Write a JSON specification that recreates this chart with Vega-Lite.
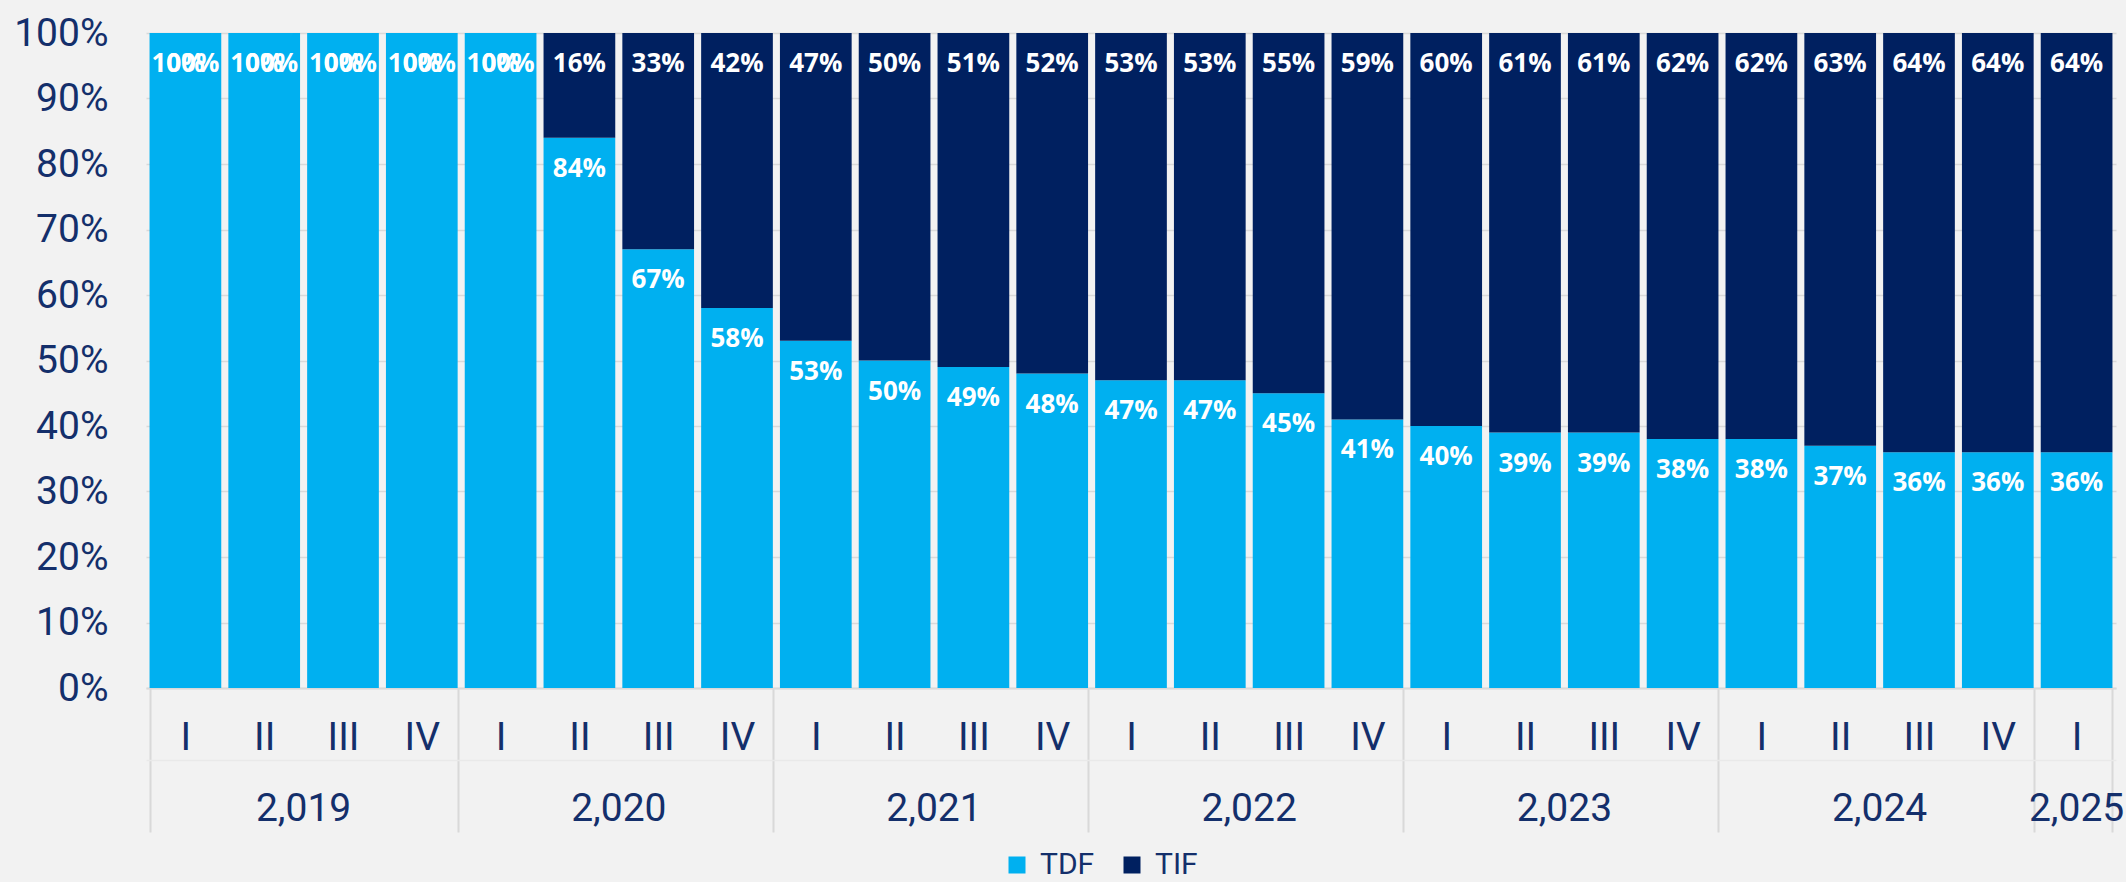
{
  "$schema": "https://vega.github.io/schema/vega-lite/v6.json",
  "width": 1970,
  "height": 655,
  "autosize": {"type": "none"},
  "padding": {"left": 146, "top": 33, "right": 10, "bottom": 194},
  "background": "#f2f2f2",
  "config": {"view": {"stroke": null}},
  "data": {
    "values": [
      {"key": "2019-I", "series": "TDF", "value": 100}, {"key": "2019-I", "series": "TIF", "value": 0},
      {"key": "2019-II", "series": "TDF", "value": 100}, {"key": "2019-II", "series": "TIF", "value": 0},
      {"key": "2019-III", "series": "TDF", "value": 100}, {"key": "2019-III", "series": "TIF", "value": 0},
      {"key": "2019-IV", "series": "TDF", "value": 100}, {"key": "2019-IV", "series": "TIF", "value": 0},
      {"key": "2020-I", "series": "TDF", "value": 100}, {"key": "2020-I", "series": "TIF", "value": 0},
      {"key": "2020-II", "series": "TDF", "value": 84}, {"key": "2020-II", "series": "TIF", "value": 16},
      {"key": "2020-III", "series": "TDF", "value": 67}, {"key": "2020-III", "series": "TIF", "value": 33},
      {"key": "2020-IV", "series": "TDF", "value": 58}, {"key": "2020-IV", "series": "TIF", "value": 42},
      {"key": "2021-I", "series": "TDF", "value": 53}, {"key": "2021-I", "series": "TIF", "value": 47},
      {"key": "2021-II", "series": "TDF", "value": 50}, {"key": "2021-II", "series": "TIF", "value": 50},
      {"key": "2021-III", "series": "TDF", "value": 49}, {"key": "2021-III", "series": "TIF", "value": 51},
      {"key": "2021-IV", "series": "TDF", "value": 48}, {"key": "2021-IV", "series": "TIF", "value": 52},
      {"key": "2022-I", "series": "TDF", "value": 47}, {"key": "2022-I", "series": "TIF", "value": 53},
      {"key": "2022-II", "series": "TDF", "value": 47}, {"key": "2022-II", "series": "TIF", "value": 53},
      {"key": "2022-III", "series": "TDF", "value": 45}, {"key": "2022-III", "series": "TIF", "value": 55},
      {"key": "2022-IV", "series": "TDF", "value": 41}, {"key": "2022-IV", "series": "TIF", "value": 59},
      {"key": "2023-I", "series": "TDF", "value": 40}, {"key": "2023-I", "series": "TIF", "value": 60},
      {"key": "2023-II", "series": "TDF", "value": 39}, {"key": "2023-II", "series": "TIF", "value": 61},
      {"key": "2023-III", "series": "TDF", "value": 39}, {"key": "2023-III", "series": "TIF", "value": 61},
      {"key": "2023-IV", "series": "TDF", "value": 38}, {"key": "2023-IV", "series": "TIF", "value": 62},
      {"key": "2024-I", "series": "TDF", "value": 38}, {"key": "2024-I", "series": "TIF", "value": 62},
      {"key": "2024-II", "series": "TDF", "value": 37}, {"key": "2024-II", "series": "TIF", "value": 63},
      {"key": "2024-III", "series": "TDF", "value": 36}, {"key": "2024-III", "series": "TIF", "value": 64},
      {"key": "2024-IV", "series": "TDF", "value": 36}, {"key": "2024-IV", "series": "TIF", "value": 64},
      {"key": "2025-I", "series": "TDF", "value": 36}, {"key": "2025-I", "series": "TIF", "value": 64}
    ]
  },
  "transform": [{"calculate": "datum.value + '%'", "as": "label"}],
  "layer": [
    {
      "mark": {"type": "bar"},
      "encoding": {
        "x": {
          "field": "key", "type": "nominal", "sort": null,
          "scale": {"paddingInner": 0.09, "paddingOuter": 0.045},
          "axis": {
            "title": null, "grid": false, "orient": "bottom",
            "domain": true, "domainColor": "#d9d9d9", "domainWidth": 2,
            "ticks": true, "tickBand": "extent", "tickSize": 144, "tickWidth": 2,
            "tickColor": {"condition": {"test": "datum.extra || indexof(datum.value, 'IV') >= 0 || datum.value == '2025-I'", "value": "#d9d9d9"}, "value": "transparent"},
            "labelExpr": "split(datum.value, '-')[1]",
            "labelAngle": 0, "labelFont": "Roboto", "labelFontSize": 39,
            "labelColor": "#142f6b", "labelBaseline": "middle", "labelPadding": -95,
            "labelOverlap": false
          }
        },
        "y": {
          "field": "value", "type": "quantitative", "stack": "zero",
          "scale": {"domain": [0, 100], "nice": false},
          "axis": {
            "title": null, "values": [0, 10, 20, 30, 40, 50, 60, 70, 80, 90, 100],
            "labelExpr": "datum.value + '%'", "domain": false, "ticks": false,
            "grid": true, "gridColor": "#d9d9d9", "gridWidth": 1.5,
            "labelFont": "Roboto", "labelFontSize": 39, "labelColor": "#142f6b",
            "labelPadding": 38
          }
        },
        "order": {"field": "series", "sort": "ascending"},
        "color": {
          "field": "series", "type": "nominal",
          "scale": {"domain": ["TDF", "TIF"], "range": ["#00b0f0", "#002060"]},
          "legend": {
            "title": null, "orient": "none", "legendX": 856, "legendY": 817,
            "direction": "horizontal", "symbolType": "square", "symbolSize": 289,
            "symbolStrokeWidth": 0, "labelFont": "Roboto", "labelFontSize": 30,
            "labelColor": "#142f6b", "labelOffset": 8, "columnPadding": 22, "padding": 0
          }
        }
      }
    },
    {
      "mark": {"type": "text", "color": "white", "font": "Open Sans", "fontWeight": "bold", "fontSize": 26, "baseline": "alphabetic", "dy": 39},
      "encoding": {
        "x": {
          "field": "key", "type": "nominal", "sort": null,
          "axis": {
            "title": null, "grid": false, "offset": 72, "orient": "bottom",
            "domain": true, "domainColor": "#e9e9e9", "domainWidth": 1.5,
            "ticks": false,
            "labelExpr": "slice(datum.value, 5) == 'II' ? format(toNumber(slice(datum.value, 0, 4)), ',') : (datum.value == '2025-I' ? '2,025' : '')",
            "labelOffset": {"condition": {"test": "slice(datum.value, 5) == 'II'", "value": 39.4}, "value": 0},
            "labelAngle": 0, "labelFont": "Roboto", "labelFontSize": 39,
            "labelColor": "#142f6b", "labelBaseline": "middle", "labelPadding": 48,
            "labelOverlap": false
          }
        },
        "y": {"field": "value", "type": "quantitative", "stack": "zero"},
        "order": {"field": "series", "sort": "ascending"},
        "detail": {"field": "series", "type": "nominal"},
        "text": {"field": "label", "type": "nominal"}
      }
    }
  ],
  "resolve": {"axis": {"x": "independent"}}
}
